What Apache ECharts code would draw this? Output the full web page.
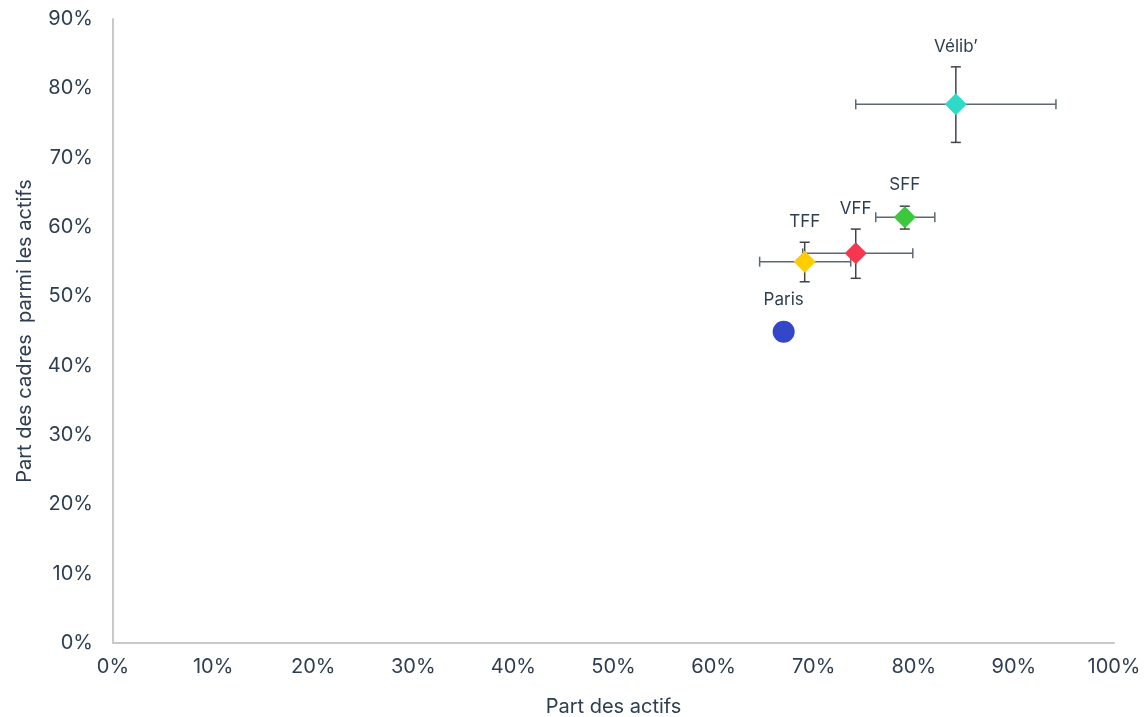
<!DOCTYPE html>
<html>
<head>
<meta charset="utf-8">
<script src="https://cdn.jsdelivr.net/npm/echarts@6/dist/echarts.min.js"></script>
<style>
html, body { margin: 0; padding: 0; background: #fff; }
#chart { width: 1147px; height: 717px; }
</style>
</head>
<body>
<div id="chart"></div>
<script>
var names = ['Paris', 'TFF', 'VFF', 'SFF', 'Vélib’'];
var xVals = [67.0, 69.1, 74.2, 79.1, 84.2];
var yVals = [44.9, 55.0, 56.2, 61.4, 77.7];
var xLow = [67.0, 64.6, 68.9, 76.2, 74.2];
var xHigh = [67.0, 73.7, 79.9, 82.1, 94.2];
var yLow = [44.9, 52.1, 52.6, 59.7, 72.2];
var yHigh = [44.9, 57.8, 59.7, 63.0, 83.1];

var colors = ['#3447c8', '#ffcc00', '#f5374f', '#3cc83c', '#2edbc8'];
var textColor = '#2e3e50';
var font = 'Inter';

var myChart = echarts.init(document.getElementById('chart'));

var barData = names.map(function (n, i) {
    return [xVals[i], yVals[i], xLow[i], xHigh[i], yLow[i], yHigh[i]];
});

var pointData = names.map(function (n, i) {
    return {
        name: n,
        value: [xVals[i], yVals[i]],
        symbol: i === 0 ? 'circle' : 'diamond',
        symbolSize: 22,
        itemStyle: { color: colors[i], opacity: 1 }
    };
});

function renderBars(params, api) {
    var x = api.value(0), y = api.value(1);
    var c = api.coord([x, y]);
    var xl = api.coord([api.value(2), y]);
    var xh = api.coord([api.value(3), y]);
    var yl = api.coord([x, api.value(4)]);
    var yh = api.coord([x, api.value(5)]);
    var cap = 5;
    var hStyle = { stroke: '#5d6873', lineWidth: 1.5 };
    var vStyle = { stroke: '#404448', lineWidth: 1.5 };
    var children = [];
    if (xh[0] - xl[0] > 1) {
        children.push(
            { type: 'line', shape: { x1: xl[0], y1: c[1], x2: xh[0], y2: c[1] }, style: hStyle },
            { type: 'line', shape: { x1: xl[0], y1: c[1] - cap, x2: xl[0], y2: c[1] + cap }, style: hStyle },
            { type: 'line', shape: { x1: xh[0], y1: c[1] - cap, x2: xh[0], y2: c[1] + cap }, style: hStyle }
        );
    }
    if (yl[1] - yh[1] > 1) {
        children.push(
            { type: 'line', shape: { x1: c[0], y1: yl[1], x2: c[0], y2: yh[1] }, style: vStyle },
            { type: 'line', shape: { x1: c[0] - cap, y1: yl[1], x2: c[0] + cap, y2: yl[1] }, style: vStyle },
            { type: 'line', shape: { x1: c[0] - cap, y1: yh[1], x2: c[0] + cap, y2: yh[1] }, style: vStyle }
        );
    }
    var labelY = Math.min(yh[1] - 20, c[1] - 32);
    children.push({
        type: 'text',
        style: {
            text: names[params.dataIndex],
            x: c[0], y: labelY,
            align: 'center', verticalAlign: 'middle',
            fill: textColor, font: '17px ' + font
        }
    });
    return { type: 'group', children: children };
}

var option = {
    animation: false,
    grid: { left: 113, right: 33, top: 19, bottom: 74, outerBoundsMode: 'none' },
    xAxis: {
        type: 'value',
        min: 0, max: 100, interval: 10,
        name: 'Part des actifs',
        nameLocation: 'middle',
        nameGap: 54,
        nameTextStyle: { color: textColor, fontSize: 20, fontFamily: font },
        axisLine: { show: true, lineStyle: { color: '#c8c8c8', width: 2 } },
        axisTick: { show: false },
        splitLine: { show: false },
        axisLabel: { color: textColor, fontSize: 20, fontFamily: font, margin: 14, formatter: '{value}%' }
    },
    yAxis: {
        type: 'value',
        min: 0, max: 90, interval: 10,
        name: 'Part des cadres  parmi les actifs',
        nameLocation: 'middle',
        nameGap: 78,
        nameTextStyle: { color: textColor, fontSize: 20, fontFamily: font },
        axisLine: { show: true, lineStyle: { color: '#c8c8c8', width: 2 } },
        axisTick: { show: false },
        splitLine: { show: false },
        axisLabel: { color: textColor, fontSize: 20, fontFamily: font, margin: 20, formatter: '{value}%' }
    },
    series: [
        {
            type: 'custom',
            renderItem: renderBars,
            data: barData,
            z: 2
        },
        {
            type: 'scatter',
            data: pointData,
            z: 3
        }
    ]
};

myChart.setOption(option);
</script>
</body>
</html>
